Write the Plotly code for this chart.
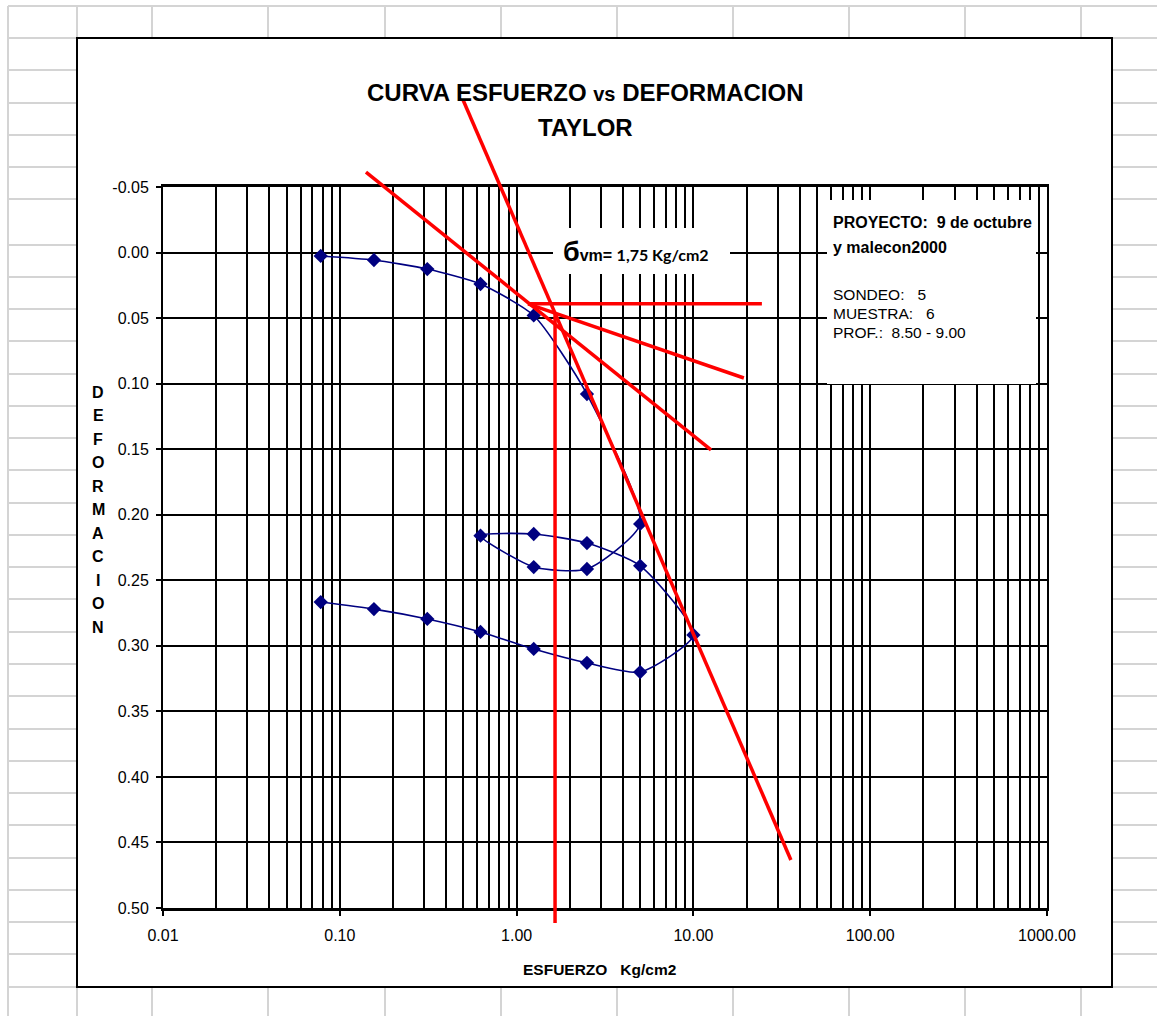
import plotly.graph_objects as go

# ---------------- data ----------------
esfuerzo = [0.078, 0.156, 0.3125, 0.625, 1.25, 2.5, 5.0, 2.5, 1.25, 0.625, 1.25,
            2.5, 5.0, 10.0, 5.0, 2.5, 1.25, 0.625, 0.3125, 0.156, 0.078]
deformacion = [0.0026, 0.0057, 0.0126, 0.024, 0.048, 0.108, 0.207, 0.2414, 0.2399,
               0.216, 0.2147, 0.2216, 0.239, 0.2917, 0.320, 0.313, 0.3024, 0.2894,
               0.2795, 0.272, 0.2666]

# Casagrande construction lines (data units)
virgen_x = [0.498, 35.6]
virgen_y = [-0.1164, 0.4634]
tangente_x = [0.1406, 12.58]
tangente_y = [-0.0614, 0.1506]
bisectriz_x = [1.16, 19.3]
bisectriz_y = [0.0392, 0.0957]
horizontal_x = [1.16, 24.4]
horizontal_y = [0.039, 0.039]
sigma_x = [1.65, 1.65]
sigma_y = [0.0469, 0.5114]

x_tickvals = [0.01, 0.1, 1, 10, 100, 1000]
x_ticktext = ["0.01", "0.10", "1.00", "10.00", "100.00", "1000.00"]
y_tickvals = [-0.05, 0.00, 0.05, 0.10, 0.15, 0.20, 0.25, 0.30, 0.35, 0.40, 0.45, 0.50]
y_ticktext = ["-0.05", "0.00", "0.05", "0.10", "0.15", "0.20", "0.25", "0.30",
              "0.35", "0.40", "0.45", "0.50"]
Y_RANGE = [0.50, -0.05]
minor_x = [m * d for d in [0.01, 0.1, 1, 10, 100] for m in range(2, 10)]

# ---------------- layout helpers ----------------
FIG_W, FIG_H = 1157, 1016
ML, MR, MT, MB = 163, 110, 187, 108
PW = FIG_W - ML - MR
PH = FIG_H - MT - MB


def px(x):
    return (x - ML) / PW


def py(y):
    return (FIG_H - MB - y) / PH


def yd(v):
    return (Y_RANGE[0] - v) / (Y_RANGE[0] - Y_RANGE[1])


FONT = "Liberation Sans, Arial, sans-serif"

fig = go.Figure()
fig.add_trace(go.Scatter(
    x=esfuerzo, y=deformacion, mode="lines+markers",
    line=dict(shape="spline", smoothing=0.6, color="#000080", width=1.6),
    marker=dict(symbol="diamond", size=11, color="#000080"),
    showlegend=False, hoverinfo="skip"))

shapes = []
# spreadsheet background grid
sheet_rows = [6, 38, 70, 103, 135, 167, 199, 245, 277, 309, 341, 374, 406, 438, 470,
              503, 535, 567, 599, 632, 664, 696, 729, 761, 793, 825, 858, 890, 922,
              954, 987]
sheet_cols = [8, 77, 152, 268, 385, 501, 617, 733, 849, 965, 1081]
for r in sheet_rows:
    shapes.append(dict(type="line", xref="paper", yref="paper", x0=px(8), x1=px(FIG_W),
                       y0=py(r), y1=py(r), line=dict(color="#d4d4d4", width=2), layer="below"))
for c in sheet_cols:
    shapes.append(dict(type="line", xref="paper", yref="paper", x0=px(c), x1=px(c),
                       y0=py(6), y1=py(FIG_H), line=dict(color="#d4d4d4", width=2), layer="below"))
# chart area
shapes.append(dict(type="rect", xref="paper", yref="paper", x0=px(77), x1=px(1112),
                   y0=py(987), y1=py(38), fillcolor="white",
                   line=dict(color="black", width=2), layer="below"))
# text boxes
shapes.append(dict(type="rect", xref="paper", yref="paper", x0=px(827), x1=px(1036),
                   y0=py(384), y1=py(200), fillcolor="white", line=dict(width=0), layer="above"))
shapes.append(dict(type="rect", xref="paper", yref="paper", x0=px(553), x1=px(730),
                   y0=py(274), y1=py(228), fillcolor="white", line=dict(width=0), layer="above"))
# red construction lines
for lx, ly in [(virgen_x, virgen_y), (tangente_x, tangente_y), (bisectriz_x, bisectriz_y),
               (horizontal_x, horizontal_y), (sigma_x, sigma_y)]:
    shapes.append(dict(type="line", xref="x", yref="paper", x0=lx[0], x1=lx[1],
                       y0=yd(ly[0]), y1=yd(ly[1]),
                       line=dict(color="#ff0000", width=3.5), layer="above"))

ann = []
ann.append(dict(text="<b>CURVA ESFUERZO <span style='font-size:20px'>vs</span> DEFORMACION</b>",
                x=px(585), y=py(92), font=dict(family=FONT, size=24, color="black")))
ann.append(dict(text="<b>TAYLOR</b>", x=px(585), y=py(127),
                font=dict(family=FONT, size=24, color="black")))
for i, ch in enumerate("DEFORMACION"):
    ann.append(dict(text="<b>" + ch + "</b>", x=px(98), y=py(392 + i * 23.5),
                    font=dict(family=FONT, size=16, color="black")))
ann.append(dict(text="<b>ESFUERZO   Kg/cm2</b>", x=px(599), y=py(969),
                font=dict(family=FONT, size=15.5, color="black")))
ann.append(dict(text="<b><span style='font-size:27px'>б</span>vm= "
                     "<span style='font-family:Lato, Open Sans, sans-serif'>1,75 Kg/cm2</span></b>",
                x=px(561), y=py(252), xanchor="left",
                font=dict(family=FONT, size=16, color="black")))
box = [("<b>PROYECTO:  9 de octubre</b>", 222, 16),
       ("<b>y malecon2000</b>", 248, 16),
       ("SONDEO:   5", 294, 15.5),
       ("MUESTRA:   6", 313, 15.5),
       ("PROF.:  8.50 - 9.00", 332, 15.5)]
for t, yy, fs in box:
    ann.append(dict(text=t, x=px(831), y=py(yy), xanchor="left",
                    font=dict(family=FONT, size=fs, color="black")))
for a in ann:
    a.setdefault("xanchor", "center")
    a.update(xref="paper", yref="paper", yanchor="middle", showarrow=False)

fig.update_layout(
    width=FIG_W, height=FIG_H, autosize=False,
    margin=dict(l=ML, r=MR, t=MT, b=MB, pad=0),
    paper_bgcolor="white", plot_bgcolor="white",
    shapes=shapes, annotations=ann,
    xaxis=dict(type="log", range=[-2, 3], tickmode="array", tickvals=x_tickvals,
               ticktext=x_ticktext, ticks="outside", ticklen=5, tickcolor="black",
               tickwidth=1.5, showgrid=True, gridcolor="black", gridwidth=1.5,
               showline=True, linecolor="black", linewidth=2.5, mirror=True,
               zeroline=False, ticklabelstandoff=6,
               tickfont=dict(family=FONT, size=16, color="black"),
               minor=dict(tickmode="array", tickvals=minor_x, showgrid=True,
                          gridcolor="black", gridwidth=1.5, ticks="")),
    yaxis=dict(range=Y_RANGE, autorange=False, tickmode="array", tickvals=y_tickvals,
               ticktext=y_ticktext, ticks="outside", ticklen=5, tickcolor="black",
               tickwidth=1.5, showgrid=True, gridcolor="black", gridwidth=1.5,
               showline=True, linecolor="black", linewidth=2, mirror=True,
               zeroline=False, ticklabelstandoff=4,
               tickfont=dict(family=FONT, size=16, color="black")),
)

fig.write_html("out.html")
